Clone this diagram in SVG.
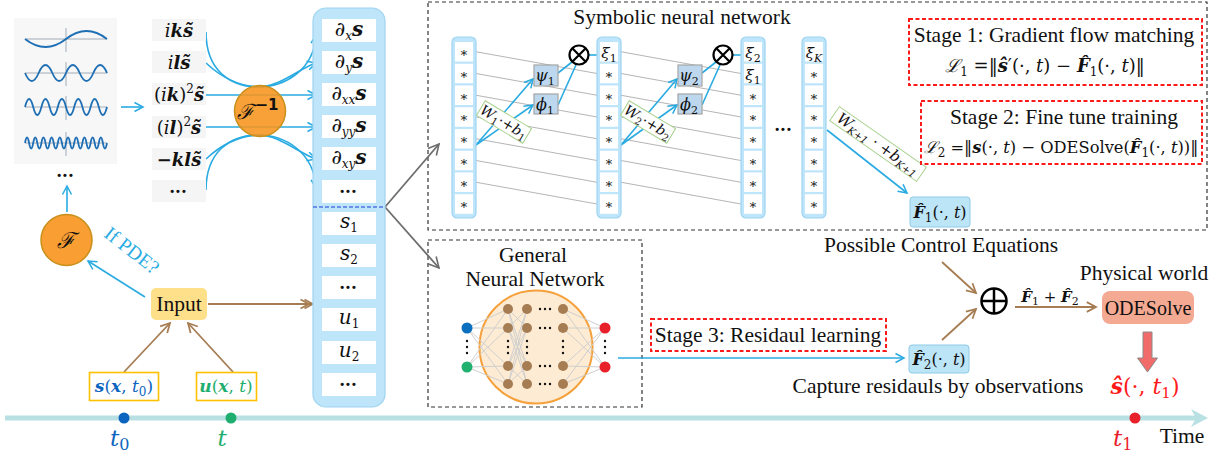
<svg xmlns="http://www.w3.org/2000/svg" width="1223" height="455" viewBox="0 0 1223 455">
<style>
text{font-family:"Liberation Serif","DejaVu Serif",serif;fill:#111}
.t20{font-size:21.5px}
.m{font-family:"DejaVu Serif","Liberation Serif",serif;font-style:italic;font-size:18px}
.b{font-weight:bold;font-style:italic}
.up{font-style:normal}
.sub{font-size:12px}
.ast{font-family:"DejaVu Sans",sans-serif;font-size:13px;fill:#8a8a8a}
.dots{font-family:"Liberation Sans",sans-serif;font-size:11px;font-weight:bold;letter-spacing:2px}
.cell{fill:#fff}
.gcell{fill:#f5f5f5}
.col{fill:#bfe5fa;stroke:#9ed4f1;stroke-width:1.2}
.blue{fill:none;stroke:#29abe2;stroke-width:1.6}
.brown{fill:none;stroke:#a67c52;stroke-width:1.8}
.gray{fill:none;stroke:#6d6d6d;stroke-width:1.8}
.thin{fill:none;stroke:#b5b5b5;stroke-width:1}
.dash{fill:none;stroke:#333;stroke-width:1.2;stroke-dasharray:4 3}
.red{fill:none;stroke:#ff1a1a;stroke-width:2;stroke-dasharray:4 2.5}
.nnl{stroke:#cfcfcf;stroke-width:1}
.hb{fill:#a67c52}
</style>
<defs>
<marker id="ab" viewBox="0 0 12 12" refX="10" refY="6" markerWidth="12" markerHeight="12" markerUnits="userSpaceOnUse" orient="auto"><path d="M1.5,1.5 L10,6 L1.5,10.5" fill="none" stroke="#29abe2" stroke-width="1.5"/></marker>
<marker id="abr" viewBox="0 0 12 12" refX="10" refY="6" markerWidth="13" markerHeight="13" markerUnits="userSpaceOnUse" orient="auto"><path d="M1.5,1.5 L10,6 L1.5,10.5" fill="none" stroke="#a67c52" stroke-width="1.6"/></marker>
<marker id="abr2" viewBox="0 0 16 12" refX="14" refY="6" markerWidth="16" markerHeight="12" markerUnits="userSpaceOnUse" orient="auto"><path d="M1.5,1.5 L10,6 L1.5,10.5 M5.5,1.5 L14,6 L5.5,10.5" fill="none" stroke="#a67c52" stroke-width="1.6"/></marker>
<marker id="agr" viewBox="0 0 14 14" refX="12" refY="7" markerWidth="14" markerHeight="14" markerUnits="userSpaceOnUse" orient="auto"><path d="M1.5,1.5 L12,7 L1.5,12.5" fill="none" stroke="#6d6d6d" stroke-width="1.6"/></marker>
</defs>
<rect width="1223" height="455" fill="#fff"/>

<!-- frames -->
<g id="frames">
<rect x="428" y="2" width="779" height="228" class="dash"/>
<rect x="428" y="240" width="214" height="167" class="dash"/>
</g>

<!-- timeline -->
<g id="timeline">
<line x1="5" y1="418" x2="1196" y2="418" stroke="#b9e0e3" stroke-width="5"/>
<path d="M1191,409 L1208,418 L1191,427 L1196,418 Z" fill="#b9e0e3"/>
<circle cx="124" cy="418" r="5.5" fill="#0b64c0"/>
<circle cx="231" cy="418" r="5.5" fill="#1fae6f"/>
<circle cx="1135" cy="418" r="5.5" fill="#e8202a"/>
<text x="110" y="446" class="m" style="font-size:23px;fill:#0b64c0">t<tspan class="up" dy="4" style="font-size:16px">0</tspan></text>
<text x="222" y="446" text-anchor="middle" class="m" style="font-size:23px;fill:#1fae6f">t</text>
<text x="1113" y="446" class="m" style="font-size:23px;fill:#e8202a">t<tspan class="up" dy="4" style="font-size:16px">1</tspan></text>
<text x="1182" y="443" text-anchor="middle" class="t20">Time</text>
</g>

<!-- connectors -->
<g id="connectors">
<line x1="121" y1="107" x2="143" y2="107" class="blue" marker-end="url(#ab)"/>
<line x1="67" y1="212" x2="67" y2="186" class="blue" marker-end="url(#ab)"/>
<line x1="145" y1="297" x2="88" y2="261" class="blue" marker-end="url(#ab)"/>
<line x1="208" y1="304" x2="313" y2="304" class="brown" marker-end="url(#abr2)"/>
<line x1="124" y1="372" x2="170" y2="323" class="brown" marker-end="url(#abr)"/>
<line x1="233" y1="372" x2="188" y2="323" class="brown" marker-end="url(#abr)"/>
<!-- inverse Fourier flows -->
<path d="M206,32 C206,70 230,87 258,87 C285,87 314,70 316,35" class="blue" marker-end="url(#ab)"/>
<path d="M206,63 C222,78 240,86 258,87 C280,87 300,68 316,63" class="blue" marker-end="url(#ab)"/>
<path d="M206,95 L316,95" class="blue" marker-end="url(#ab)"/>
<path d="M206,127 L316,127" class="blue" marker-end="url(#ab)"/>
<path d="M206,159 C222,144 240,136 258,135 C280,135 300,154 316,159" class="blue" marker-end="url(#ab)"/>
<path d="M206,190 C206,152 230,135 258,135 C285,135 314,152 316,188" class="blue" marker-end="url(#ab)"/>
<!-- column to networks -->
<line x1="385" y1="207" x2="439" y2="144" class="gray" marker-end="url(#agr)"/>
<line x1="385" y1="207" x2="439" y2="268" class="gray" marker-end="url(#agr)"/>
<!-- symbolic NN skip lines -->
<g class="thin">
<path d="M476,51.75L597,73.5M476,73.5L597,95.25M476,95.25L597,117M476,117L597,138.75M476,138.75L597,160.5M476,160.5L597,182.25M476,182.25L597,204"/>
<path d="M621,51.75L741,73.5M621,73.5L741,95.25M621,95.25L741,117M621,117L741,138.75M621,138.75L741,160.5M621,160.5L741,182.25M621,182.25L741,204"/>
</g>
<!-- symbolic NN blue -->
<line x1="476" y1="145" x2="533" y2="79" class="blue" marker-end="url(#ab)"/>
<line x1="476" y1="145" x2="533" y2="105" class="blue" marker-end="url(#ab)"/>
<line x1="558" y1="73" x2="572" y2="62" class="blue"/>
<line x1="558" y1="105" x2="576" y2="65" class="blue"/>
<line x1="589" y1="55" x2="597" y2="55" class="blue"/>
<line x1="621" y1="145" x2="677" y2="79" class="blue" marker-end="url(#ab)"/>
<line x1="621" y1="145" x2="677" y2="105" class="blue" marker-end="url(#ab)"/>
<line x1="702" y1="73" x2="716" y2="62" class="blue"/>
<line x1="702" y1="105" x2="720" y2="65" class="blue"/>
<line x1="733" y1="55" x2="741" y2="55" class="blue"/>
<line x1="827" y1="130" x2="907" y2="193" class="blue" marker-end="url(#ab)"/>
<!-- general NN to F2 -->
<line x1="618" y1="358" x2="904" y2="358" class="blue" marker-end="url(#ab)"/>
<!-- combination -->
<line x1="942" y1="262" x2="976" y2="293" class="brown" marker-end="url(#abr)"/>
<line x1="942" y1="340" x2="976" y2="309" class="brown" marker-end="url(#abr)"/>
<line x1="1015" y1="307" x2="1096" y2="307" class="brown" marker-end="url(#abr)"/>
</g>

<!-- wave panel -->
<g id="wave-panel">
<rect x="14" y="18" width="103" height="146" fill="#f7f7f7"/>
<g stroke="#8a9aa8" stroke-width="0.8" fill="none">
<path d="M25,39H107M66,28V52M25,73H107M66,62V86M25,107H107M66,96V120M25,143H107M66,132V156"/>
</g>
<g stroke="#1f6fb5" stroke-width="1.8" fill="none">
<path d="M25,39 q20.5,16 41,0 t41,0"/>
<path d="M25,73 q6.83,16 13.67,0 t13.67,0 t13.67,0 t13.67,0 t13.67,0 t13.67,0"/>
<path d="M25,107 q4.1,-16 8.2,0 t8.2,0 t8.2,0 t8.2,0 t8.2,0 t8.2,0 t8.2,0 t8.2,0 t8.2,0 t8.2,0"/>
<path d="M25,143 q2.05,-11 4.1,0 t4.1,0 t4.1,0 t4.1,0 t4.1,0 t4.1,0 t4.1,0 t4.1,0 t4.1,0 t4.1,0 t4.1,0 t4.1,0 t4.1,0 t4.1,0 t4.1,0 t4.1,0 t4.1,0 t4.1,0 t4.1,0 t4.1,0"/>
</g>
<text x="66" y="179" text-anchor="middle" class="dots">•••</text>
</g>

<!-- Fourier coefficient list -->
<g id="fourier-coeffs">
<rect x="152" y="19" width="54" height="22" class="gcell"/>
<rect x="152" y="51" width="54" height="22" class="gcell"/>
<rect x="152" y="83" width="54" height="22" class="gcell"/>
<rect x="152" y="116" width="54" height="22" class="gcell"/>
<rect x="152" y="148" width="54" height="22" class="gcell"/>
<rect x="152" y="180" width="54" height="22" class="gcell"/>
<text x="179" y="37" text-anchor="middle" class="m">i<tspan class="b">ks̃</tspan></text>
<text x="179" y="69" text-anchor="middle" class="m">i<tspan class="b">ls̃</tspan></text>
<text x="179" y="101" text-anchor="middle" class="m"><tspan class="up">(</tspan>i<tspan class="b">k</tspan><tspan class="up">)</tspan><tspan class="up sub" dy="-8">2</tspan><tspan class="b" dy="8">s̃</tspan></text>
<text x="179" y="134" text-anchor="middle" class="m"><tspan class="up">(</tspan>i<tspan class="b">l</tspan><tspan class="up">)</tspan><tspan class="up sub" dy="-8">2</tspan><tspan class="b" dy="8">s̃</tspan></text>
<text x="179" y="166" text-anchor="middle" class="m b">−kls̃</text>
<text x="179" y="195" text-anchor="middle" class="dots">•••</text>
</g>

<!-- inverse Fourier node -->
<g id="inverse-fourier">
<circle cx="260" cy="111" r="25.5" fill="#f7941d" fill-opacity="0.88" stroke="#c8901a" stroke-width="1.5"/>
<text x="258" y="119" text-anchor="middle" style="font-family:'DejaVu Serif',serif;font-style:italic;font-size:21px">ℱ<tspan dx="1" dy="-9" style="font-family:'DejaVu Sans',sans-serif;font-size:15px;font-style:normal;font-weight:bold">−1</tspan></text>
</g>

<!-- Fourier node -->
<g id="fourier">
<circle cx="66.5" cy="240" r="25.5" fill="#f7941d" fill-opacity="0.9" stroke="#c8901a" stroke-width="1.5"/>
<text x="66" y="248" text-anchor="middle" style="font-family:'DejaVu Serif',serif;font-style:italic;font-size:22px">ℱ</text>
</g>
<text x="0" y="0" transform="translate(103,236) rotate(38)" style="font-size:19.5px;fill:#29abe2">If PDE?</text>

<!-- input -->
<g id="input">
<rect x="151" y="288" width="56" height="32" rx="5" fill="#ffe08a"/>
<text x="179" y="311" text-anchor="middle" class="t20">Input</text>
</g>
<g id="s-initial">
<rect x="89.5" y="372.5" width="69" height="28" fill="#fff" stroke="#ffc000" stroke-width="1.6"/>
<text x="124" y="392" text-anchor="middle" class="m" style="font-size:17px;fill:#0b64c0"><tspan class="b">s</tspan><tspan class="up">(</tspan><tspan class="b">x</tspan><tspan class="up">, </tspan>t<tspan class="up sub" dy="4">0</tspan><tspan class="up" dy="-4">)</tspan></text>
</g>
<g id="u-control">
<rect x="196.5" y="372.5" width="60" height="28" fill="#fff" stroke="#ffc000" stroke-width="1.6"/>
<text x="226" y="392" text-anchor="middle" class="m" style="font-size:17px;fill:#1fae6f"><tspan class="b">u</tspan><tspan class="up">(</tspan><tspan class="b">x</tspan><tspan class="up">, </tspan>t<tspan class="up">)</tspan></text>
</g>

<!-- feature column -->
<g id="feature-column">
<rect x="313" y="8" width="72" height="399" rx="13" class="col"/>
<rect x="322" y="19" width="54" height="23" class="cell"/>
<rect x="322" y="51" width="54" height="23" class="cell"/>
<rect x="322" y="83" width="54" height="23" class="cell"/>
<rect x="322" y="115" width="54" height="23" class="cell"/>
<rect x="322" y="147" width="54" height="23" class="cell"/>
<rect x="322" y="180" width="54" height="23" class="cell"/>
<line x1="313" y1="207" x2="385" y2="207" stroke="#1a3fd6" stroke-width="1.2" stroke-dasharray="4 2"/>
<rect x="322" y="212" width="54" height="23" class="cell"/>
<rect x="322" y="244" width="54" height="23" class="cell"/>
<rect x="322" y="276" width="54" height="23" class="cell"/>
<rect x="322" y="308" width="54" height="23" class="cell"/>
<rect x="322" y="341" width="54" height="23" class="cell"/>
<rect x="322" y="373" width="54" height="23" class="cell"/>
<text x="349" y="36" text-anchor="middle" class="m" style="font-size:20px">∂<tspan class="sub" dy="4">x</tspan><tspan class="b" dy="-4">s</tspan></text>
<text x="349" y="68" text-anchor="middle" class="m" style="font-size:20px">∂<tspan class="sub" dy="4">y</tspan><tspan class="b" dy="-4">s</tspan></text>
<text x="349" y="100" text-anchor="middle" class="m" style="font-size:20px">∂<tspan class="sub" dy="4">xx</tspan><tspan class="b" dy="-4">s</tspan></text>
<text x="349" y="132" text-anchor="middle" class="m" style="font-size:20px">∂<tspan class="sub" dy="4">yy</tspan><tspan class="b" dy="-4">s</tspan></text>
<text x="349" y="164" text-anchor="middle" class="m" style="font-size:20px">∂<tspan class="sub" dy="4">xy</tspan><tspan class="b" dy="-4">s</tspan></text>
<text x="349" y="195" text-anchor="middle" class="dots">•••</text>
<text x="349" y="228" text-anchor="middle" class="m" style="font-size:20px">s<tspan class="up sub" dy="4">1</tspan></text>
<text x="349" y="260" text-anchor="middle" class="m" style="font-size:20px">s<tspan class="up sub" dy="4">2</tspan></text>
<text x="349" y="291" text-anchor="middle" class="dots">•••</text>
<text x="349" y="324" text-anchor="middle" class="m" style="font-size:20px">u<tspan class="up sub" dy="4">1</tspan></text>
<text x="349" y="357" text-anchor="middle" class="m" style="font-size:20px">u<tspan class="up sub" dy="4">2</tspan></text>
<text x="349" y="388" text-anchor="middle" class="dots">•••</text>
</g>

<!-- symbolic neural network -->
<g id="symbolic-nn">
<text x="682" y="24" text-anchor="middle" class="t20">Symbolic neural network</text>
<g id="snn-col1">
<rect x="452" y="37" width="24" height="181" rx="5" class="col"/>
<g class="cell"><rect x="455" y="42" width="18" height="19.5"/><rect x="455" y="63.75" width="18" height="19.5"/><rect x="455" y="85.5" width="18" height="19.5"/><rect x="455" y="107.25" width="18" height="19.5"/><rect x="455" y="129" width="18" height="19.5"/><rect x="455" y="150.75" width="18" height="19.5"/><rect x="455" y="172.5" width="18" height="19.5"/><rect x="455" y="194.25" width="18" height="19.5"/></g>
<g class="ast" text-anchor="middle"><text x="464" y="57">∗</text><text x="464" y="79">∗</text><text x="464" y="100.5">∗</text><text x="464" y="122">∗</text><text x="464" y="144">∗</text><text x="464" y="165.5">∗</text><text x="464" y="187.5">∗</text><text x="464" y="209">∗</text></g>
</g>
<g id="snn-col2">
<rect x="597" y="37" width="24" height="181" rx="5" class="col"/>
<g class="cell"><rect x="600" y="42" width="18" height="19.5"/><rect x="600" y="63.75" width="18" height="19.5"/><rect x="600" y="85.5" width="18" height="19.5"/><rect x="600" y="107.25" width="18" height="19.5"/><rect x="600" y="129" width="18" height="19.5"/><rect x="600" y="150.75" width="18" height="19.5"/><rect x="600" y="172.5" width="18" height="19.5"/><rect x="600" y="194.25" width="18" height="19.5"/></g>
<text x="609" y="58" text-anchor="middle" class="m" style="font-size:15px">ξ<tspan class="up" dy="4" style="font-size:11px">1</tspan></text>
<g class="ast" text-anchor="middle"><text x="609" y="79">∗</text><text x="609" y="100.5">∗</text><text x="609" y="122">∗</text><text x="609" y="144">∗</text><text x="609" y="165.5">∗</text><text x="609" y="187.5">∗</text><text x="609" y="209">∗</text></g>
</g>
<g id="snn-col3">
<rect x="741" y="37" width="24" height="181" rx="5" class="col"/>
<g class="cell"><rect x="744" y="42" width="18" height="19.5"/><rect x="744" y="63.75" width="18" height="19.5"/><rect x="744" y="85.5" width="18" height="19.5"/><rect x="744" y="107.25" width="18" height="19.5"/><rect x="744" y="129" width="18" height="19.5"/><rect x="744" y="150.75" width="18" height="19.5"/><rect x="744" y="172.5" width="18" height="19.5"/><rect x="744" y="194.25" width="18" height="19.5"/></g>
<text x="753" y="58" text-anchor="middle" class="m" style="font-size:15px">ξ<tspan class="up" dy="4" style="font-size:11px">2</tspan></text>
<text x="753" y="80" text-anchor="middle" class="m" style="font-size:15px">ξ<tspan class="up" dy="4" style="font-size:11px">1</tspan></text>
<g class="ast" text-anchor="middle"><text x="753" y="100.5">∗</text><text x="753" y="122">∗</text><text x="753" y="144">∗</text><text x="753" y="165.5">∗</text><text x="753" y="187.5">∗</text><text x="753" y="209">∗</text></g>
</g>
<text x="784" y="133" text-anchor="middle" class="dots">•••</text>
<g id="snn-col4">
<rect x="802" y="37" width="24" height="181" rx="5" class="col"/>
<g class="cell"><rect x="805" y="42" width="18" height="19.5"/><rect x="805" y="63.75" width="18" height="19.5"/><rect x="805" y="85.5" width="18" height="19.5"/><rect x="805" y="107.25" width="18" height="19.5"/><rect x="805" y="129" width="18" height="19.5"/><rect x="805" y="150.75" width="18" height="19.5"/><rect x="805" y="172.5" width="18" height="19.5"/><rect x="805" y="194.25" width="18" height="19.5"/></g>
<text x="814" y="58" text-anchor="middle" class="m" style="font-size:15px">ξ<tspan dy="4" style="font-size:11px">K</tspan></text>
<g class="ast" text-anchor="middle"><text x="814" y="79">∗</text><text x="814" y="100.5">∗</text><text x="814" y="122">∗</text><text x="814" y="144">∗</text><text x="814" y="165.5">∗</text><text x="814" y="187.5">∗</text><text x="814" y="209">∗</text></g>
</g>
<g id="psi1"><rect x="534" y="65" width="24" height="21" fill="#bdd7ee" stroke="#a5a5a5" stroke-width="1.2"/><text x="545" y="81" text-anchor="middle" class="m" style="font-size:16px">ψ<tspan class="up" dy="4" style="font-size:11px">1</tspan></text></g>
<g id="phi1"><rect x="534" y="94" width="24" height="20" fill="#bdd7ee" stroke="#a5a5a5" stroke-width="1.2"/><text x="545" y="110" text-anchor="middle" class="m" style="font-size:16px">ϕ<tspan class="up" dy="4" style="font-size:11px">1</tspan></text></g>
<g id="psi2"><rect x="678" y="65" width="24" height="21" fill="#bdd7ee" stroke="#a5a5a5" stroke-width="1.2"/><text x="689" y="81" text-anchor="middle" class="m" style="font-size:16px">ψ<tspan class="up" dy="4" style="font-size:11px">2</tspan></text></g>
<g id="phi2"><rect x="678" y="94" width="24" height="20" fill="#bdd7ee" stroke="#a5a5a5" stroke-width="1.2"/><text x="689" y="110" text-anchor="middle" class="m" style="font-size:16px">ϕ<tspan class="up" dy="4" style="font-size:11px">2</tspan></text></g>
<g id="mult1" fill="#fff" stroke="#000" stroke-width="2.2"><circle cx="579" cy="55" r="9.5"/><path d="M572.3,48.3L585.7,61.7M585.7,48.3L572.3,61.7"/></g>
<g id="mult2" fill="#fff" stroke="#000" stroke-width="2.2"><circle cx="723" cy="55" r="9.5"/><path d="M716.3,48.3L729.7,61.7M729.7,48.3L716.3,61.7"/></g>
<g id="w1" transform="translate(504,122) rotate(31)"><rect x="-27" y="-8.5" width="54" height="17" fill="#fff" stroke="#a9d18e" stroke-width="1"/><text x="0" y="5" text-anchor="middle" class="m" style="font-size:14px">W<tspan class="up" dy="3" style="font-size:10px">1</tspan><tspan class="up" dy="-3">·+</tspan>b<tspan class="up" dy="3" style="font-size:10px">1</tspan></text></g>
<g id="w2" transform="translate(648,122) rotate(31)"><rect x="-27" y="-8.5" width="54" height="17" fill="#fff" stroke="#a9d18e" stroke-width="1"/><text x="0" y="5" text-anchor="middle" class="m" style="font-size:14px">W<tspan class="up" dy="3" style="font-size:10px">2</tspan><tspan class="up" dy="-3">·+</tspan>b<tspan class="up" dy="3" style="font-size:10px">2</tspan></text></g>
<g id="wK" transform="translate(878,144) rotate(35)"><rect x="-53" y="-8.5" width="106" height="17" fill="#fff" stroke="#a9d18e" stroke-width="1"/><text x="0" y="5" text-anchor="middle" class="m" style="font-size:15px">W<tspan dy="3" style="font-size:10px">K+1</tspan><tspan class="up" dy="-3"> · +</tspan>b<tspan dy="3" style="font-size:10px">K+1</tspan></text></g>
</g>

<!-- F1 -->
<g id="F1-hat">
<rect x="910" y="197" width="60" height="30" rx="3" fill="#bde5f8" stroke="#8ecae6" stroke-width="1"/>
<text x="940" y="218" text-anchor="middle" class="m" style="font-size:16px"><tspan class="b">F̂</tspan><tspan class="up sub" dy="4">1</tspan><tspan class="up" dy="-4">(·, </tspan>t<tspan class="up">)</tspan></text>
</g>

<!-- stage 1 -->
<g id="stage1">
<rect x="909" y="19" width="293" height="66" class="red"/>
<text x="1054" y="42" text-anchor="middle" class="t20">Stage 1: Gradient flow matching</text>
<text x="1045" y="72" text-anchor="middle" class="m">ℒ<tspan class="up sub" dy="4">1</tspan><tspan class="up" dy="-4"> =‖</tspan><tspan class="b">ŝ</tspan><tspan class="up">′(·, </tspan>t<tspan class="up">) − </tspan><tspan class="b">F̂</tspan><tspan class="up sub" dy="4">1</tspan><tspan class="up" dy="-4">(·, </tspan>t<tspan class="up">)‖</tspan></text>
</g>

<!-- stage 2 -->
<g id="stage2">
<rect x="921" y="101" width="281" height="63" class="red"/>
<text x="1064" y="124" text-anchor="middle" class="t20">Stage 2: Fine tune training</text>
<text x="1061" y="153" text-anchor="middle" class="m" style="font-size:16.3px">ℒ<tspan class="up sub" dy="4">2</tspan><tspan class="up" dy="-4"> =‖</tspan><tspan class="b">s</tspan><tspan class="up">(·, </tspan>t<tspan class="up">) − ODESolve(</tspan><tspan class="b">F̂</tspan><tspan class="up sub" dy="4">1</tspan><tspan class="up" dy="-4">(·, </tspan>t<tspan class="up">))‖</tspan></text>
</g>

<!-- general neural network -->
<g id="general-nn">
<text x="533" y="262" text-anchor="middle" class="t20">General</text>
<text x="535" y="286" text-anchor="middle" class="t20">Neural Network</text>
<circle cx="536" cy="347" r="56.5" fill="#fdebd3" stroke="#f5a03a" stroke-width="2"/>
<g class="nnl">
<path d="M467,328L508,309M467,328L508,328M467,328L508,366M467,328L508,384M467,367L508,309M467,367L508,328M467,367L508,366M467,367L508,384"/>
<path d="M508,309L527,328M508,309L527,366M508,309L527,384M508,328L527,309M508,328L527,366M508,328L527,384M508,366L527,309M508,366L527,328M508,366L527,384M508,384L527,309M508,384L527,328M508,384L527,366"/>
<path d="M563,309L605,328M563,328L605,328M563,366L605,328M563,384L605,328M563,309L605,367M563,328L605,367M563,366L605,367M563,384L605,367"/>
</g>
<g class="hb">
<circle cx="508" cy="309" r="5"/><circle cx="508" cy="328" r="5"/><circle cx="508" cy="366" r="5"/><circle cx="508" cy="384" r="5"/>
<circle cx="527" cy="309" r="5"/><circle cx="527" cy="328" r="5"/><circle cx="527" cy="366" r="5"/><circle cx="527" cy="384" r="5"/>
<circle cx="563" cy="309" r="5"/><circle cx="563" cy="328" r="5"/><circle cx="563" cy="366" r="5"/><circle cx="563" cy="384" r="5"/>
</g>
<g fill="#111">
<circle cx="540" cy="309" r="1.2"/><circle cx="545" cy="309" r="1.2"/><circle cx="550" cy="309" r="1.2"/>
<circle cx="540" cy="328" r="1.2"/><circle cx="545" cy="328" r="1.2"/><circle cx="550" cy="328" r="1.2"/>
<circle cx="540" cy="366" r="1.2"/><circle cx="545" cy="366" r="1.2"/><circle cx="550" cy="366" r="1.2"/>
<circle cx="540" cy="384" r="1.2"/><circle cx="545" cy="384" r="1.2"/><circle cx="550" cy="384" r="1.2"/>
<circle cx="467" cy="341" r="1.2"/><circle cx="467" cy="347" r="1.2"/><circle cx="467" cy="353" r="1.2"/>
<circle cx="508" cy="341" r="1.2"/><circle cx="508" cy="347" r="1.2"/><circle cx="508" cy="353" r="1.2"/>
<circle cx="527" cy="341" r="1.2"/><circle cx="527" cy="347" r="1.2"/><circle cx="527" cy="353" r="1.2"/>
<circle cx="563" cy="341" r="1.2"/><circle cx="563" cy="347" r="1.2"/><circle cx="563" cy="353" r="1.2"/>
<circle cx="605" cy="341" r="1.2"/><circle cx="605" cy="347" r="1.2"/><circle cx="605" cy="353" r="1.2"/>
</g>
<circle cx="467" cy="328" r="5.5" fill="#0b6fc0"/>
<circle cx="467" cy="367" r="5.5" fill="#20b070"/>
<circle cx="605" cy="328" r="5.5" fill="#e8202a"/>
<circle cx="605" cy="367" r="5.5" fill="#e8202a"/>
</g>

<!-- stage 3 -->
<g id="stage3">
<rect x="651" y="319" width="235" height="32" class="red"/>
<text x="768" y="342" text-anchor="middle" class="t20">Stage 3: Residaul learning</text>
</g>

<!-- F2 -->
<g id="F2-hat">
<rect x="909" y="345" width="60" height="28" rx="3" fill="#bde5f8" stroke="#8ecae6" stroke-width="1"/>
<text x="939" y="365" text-anchor="middle" class="m" style="font-size:16px"><tspan class="b">F̂</tspan><tspan class="up sub" dy="4">2</tspan><tspan class="up" dy="-4">(·, </tspan>t<tspan class="up">)</tspan></text>
</g>

<text x="941" y="252" text-anchor="middle" class="t20">Possible Control Equations</text>
<text x="938" y="393" text-anchor="middle" class="t20">Capture residauls by observations</text>

<!-- sum -->
<g id="oplus" fill="none" stroke="#000" stroke-width="2.5">
<circle cx="994" cy="301" r="12.5"/><path d="M981.5,301H1006.5M994,288.5V313.5"/>
</g>
<text x="1050" y="302" text-anchor="middle" class="m" style="font-size:15px"><tspan class="b">F̂</tspan><tspan class="up" dy="3" style="font-size:11px">1</tspan><tspan class="up" dy="-3"> + </tspan><tspan class="b">F̂</tspan><tspan class="up" dy="3" style="font-size:11px">2</tspan></text>

<!-- ODESolve -->
<g id="odesolve">
<text x="1144" y="280" text-anchor="middle" class="t20">Physical world</text>
<rect x="1102" y="291" width="92" height="33" rx="8" fill="#f4a992"/>
<text x="1148" y="315" text-anchor="middle" style="font-size:20px">ODESolve</text>
</g>
<path d="M1143,332 H1152 V358 H1157.5 L1147.5,372 L1137.5,358 H1143 Z" fill="#f26b6b" stroke="#8a8a8a" stroke-width="1"/>
<g id="prediction">
<text x="1145" y="394" text-anchor="middle" class="m" style="font-size:22px;fill:#ff1a1a"><tspan class="b" style="fill:#ff1a1a">ŝ</tspan><tspan class="up" style="fill:#ff1a1a">(·, </tspan><tspan style="fill:#ff1a1a">t</tspan><tspan class="up" dy="4" style="font-size:15px;fill:#ff1a1a">1</tspan><tspan class="up" dy="-4" style="fill:#ff1a1a">)</tspan></text>
</g>
</svg>
